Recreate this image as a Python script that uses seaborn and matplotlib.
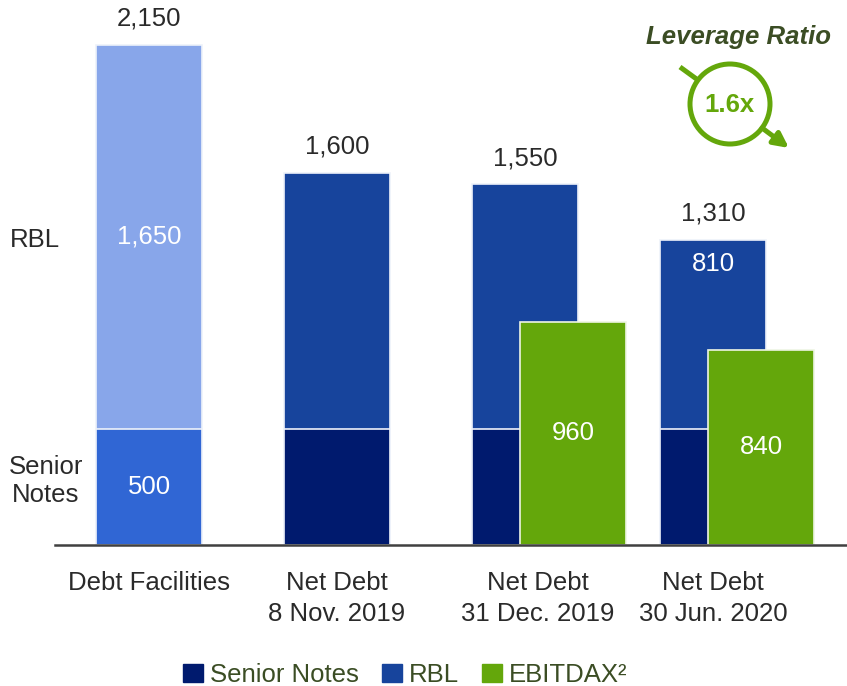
import numpy as np
import pandas as pd
import matplotlib
matplotlib.use("Agg")
import matplotlib.pyplot as plt
from matplotlib.patches import Patch, Circle, FancyArrowPatch
import seaborn as sns

# data
categories = ["Debt Facilities", "Net Debt\n8 Nov. 2019", "Net Debt\n31 Dec. 2019", "Net Debt\n30 Jun. 2020"]
senior_notes = [500, 500, 500, 500]
rbl = [1650, 1100, 1050, 810]
totals = [2150, 1600, 1550, 1310]
ebitdax_cats = [2, 3]
ebitdax = [960, 840]
leverage = "1.6x"

NAVY = "#001a6e"
RBL_C = "#17449c"
GREEN = "#64a70b"
LIGHT = "#88a6ea"
MID = "#3066d4"
TXT = "#2a2a2a"
DKGREEN = "#3b4d24"

sns.set_theme(style="white")
plt.rcParams["font.family"] = ["Liberation Sans", "DejaVu Sans"]

fig = plt.figure(figsize=(8.47, 6.86), dpi=100)
ax = fig.add_axes([55 / 847, 1 - 545 / 686, 1 - 55 / 847, 545 / 686])

pos = np.arange(len(categories)).astype(float)
df = pd.DataFrame({"pos": pos, "total": totals, "senior": senior_notes,
                   "shade_top": ["light", "rbl", "rbl", "rbl"],
                   "shade_bot": ["mid", "navy", "navy", "navy"]})
pal = {"light": LIGHT, "rbl": RBL_C, "mid": MID, "navy": NAVY}
W = 0.564
sns.barplot(data=df, x="pos", y="total", hue="shade_top", palette=pal, native_scale=True,
            width=W, dodge=False, legend=False, errorbar=None, ax=ax, saturation=1,
            edgecolor="#eef2fa", linewidth=1.2)
sns.barplot(data=df, x="pos", y="senior", hue="shade_bot", palette=pal, native_scale=True,
            width=W, dodge=False, legend=False, errorbar=None, ax=ax, saturation=1,
            edgecolor="#eef2fa", linewidth=1.2)
dg = pd.DataFrame({"pos": np.array(ebitdax_cats) + 0.257, "val": ebitdax})
sns.barplot(data=dg, x="pos", y="val", color=GREEN, saturation=1, native_scale=True,
            width=W, errorbar=None, ax=ax, edgecolor="#eef5e4", linewidth=1.2)
for p in ax.patches:
    p.set_alpha(1)

ax.set_xlim(-0.5, 3.713)
ax.set_ylim(0, 2343)
for s in ["top", "right", "left"]:
    ax.spines[s].set_visible(False)
ax.spines["bottom"].set_color("#404040")
ax.spines["bottom"].set_linewidth(1.8)
ax.set_yticks([])
ax.set_xlabel("")
ax.set_ylabel("")
ax.set_xticks([0, 1, 2.07, 3])
ax.set_xticklabels(categories, fontsize=18.5, color=TXT, linespacing=1.35)
ax.tick_params(axis="x", length=0, pad=19)

fs = 18.5
# totals on top
for x, t in zip(pos, totals):
    ax.annotate(f"{t:,}", (x, t), xytext=(0, 19), textcoords="offset points",
                ha="center", va="center", fontsize=fs, color=TXT)
# inside labels
ax.text(0, senior_notes[0] + rbl[0] / 2, f"{rbl[0]:,}", ha="center", va="center", fontsize=fs, color="white")
ax.text(0, senior_notes[0] / 2, f"{senior_notes[0]:,}", ha="center", va="center", fontsize=fs, color="white")
ax.text(3, totals[3] - 100, f"{rbl[3]:,}", ha="center", va="center", fontsize=fs, color="white")
for x, v in zip(dg["pos"], ebitdax):
    ax.text(x, v / 2, f"{v:,}", ha="center", va="center", fontsize=fs, color="white")

# left row labels
fig.text(35 / 847, 1 - 240 / 686, "RBL", ha="center", va="center", fontsize=fs, color=TXT)
fig.text(46 / 847, 1 - 481 / 686, "Senior\nNotes", ha="center", va="center", fontsize=fs, color=TXT,
         linespacing=1.2)

# legend
handles = [Patch(color=NAVY), Patch(color=RBL_C), Patch(color=GREEN)]
leg = fig.legend(handles, ["Senior Notes", "RBL", "EBITDAX²"], loc="center", ncol=3,
                 bbox_to_anchor=(405 / 847, 1 - 675 / 686), frameon=False, fontsize=fs,
                 handlelength=0.8, handleheight=0.65, handletextpad=0.25, columnspacing=0.9)
for t in leg.get_texts():
    t.set_color(DKGREEN)

# leverage ratio badge
ov = fig.add_axes([0, 0, 1, 1])
ov.set_xlim(0, 847)
ov.set_ylim(686, 0)
ov.axis("off")
ov.text(739, 37, "Leverage Ratio", ha="center", va="center", fontsize=18.5,
        fontweight="bold", fontstyle="italic", color=DKGREEN)
cx, cy, r = 730, 104, 40
ov.add_patch(Circle((cx, cy), r, fill=False, ec=GREEN, lw=3.6))
d = np.array([107, 80]) / np.hypot(107, 80)
start = np.array([680, 67])
ov.plot([start[0], cx - d[0] * r], [start[1], cy - d[1] * r], color=GREEN, lw=3.6,
        solid_capstyle="butt")
ov.add_patch(FancyArrowPatch((cx + d[0] * r, cy + d[1] * r), (789, 148), arrowstyle="-|>",
                             mutation_scale=22, color=GREEN, lw=3.6, shrinkA=0, shrinkB=0))
ov.text(cx, cy + 1, leverage, ha="center", va="center", fontsize=18.5, fontweight="bold", color=GREEN)

fig.savefig("out.png", dpi=100)
